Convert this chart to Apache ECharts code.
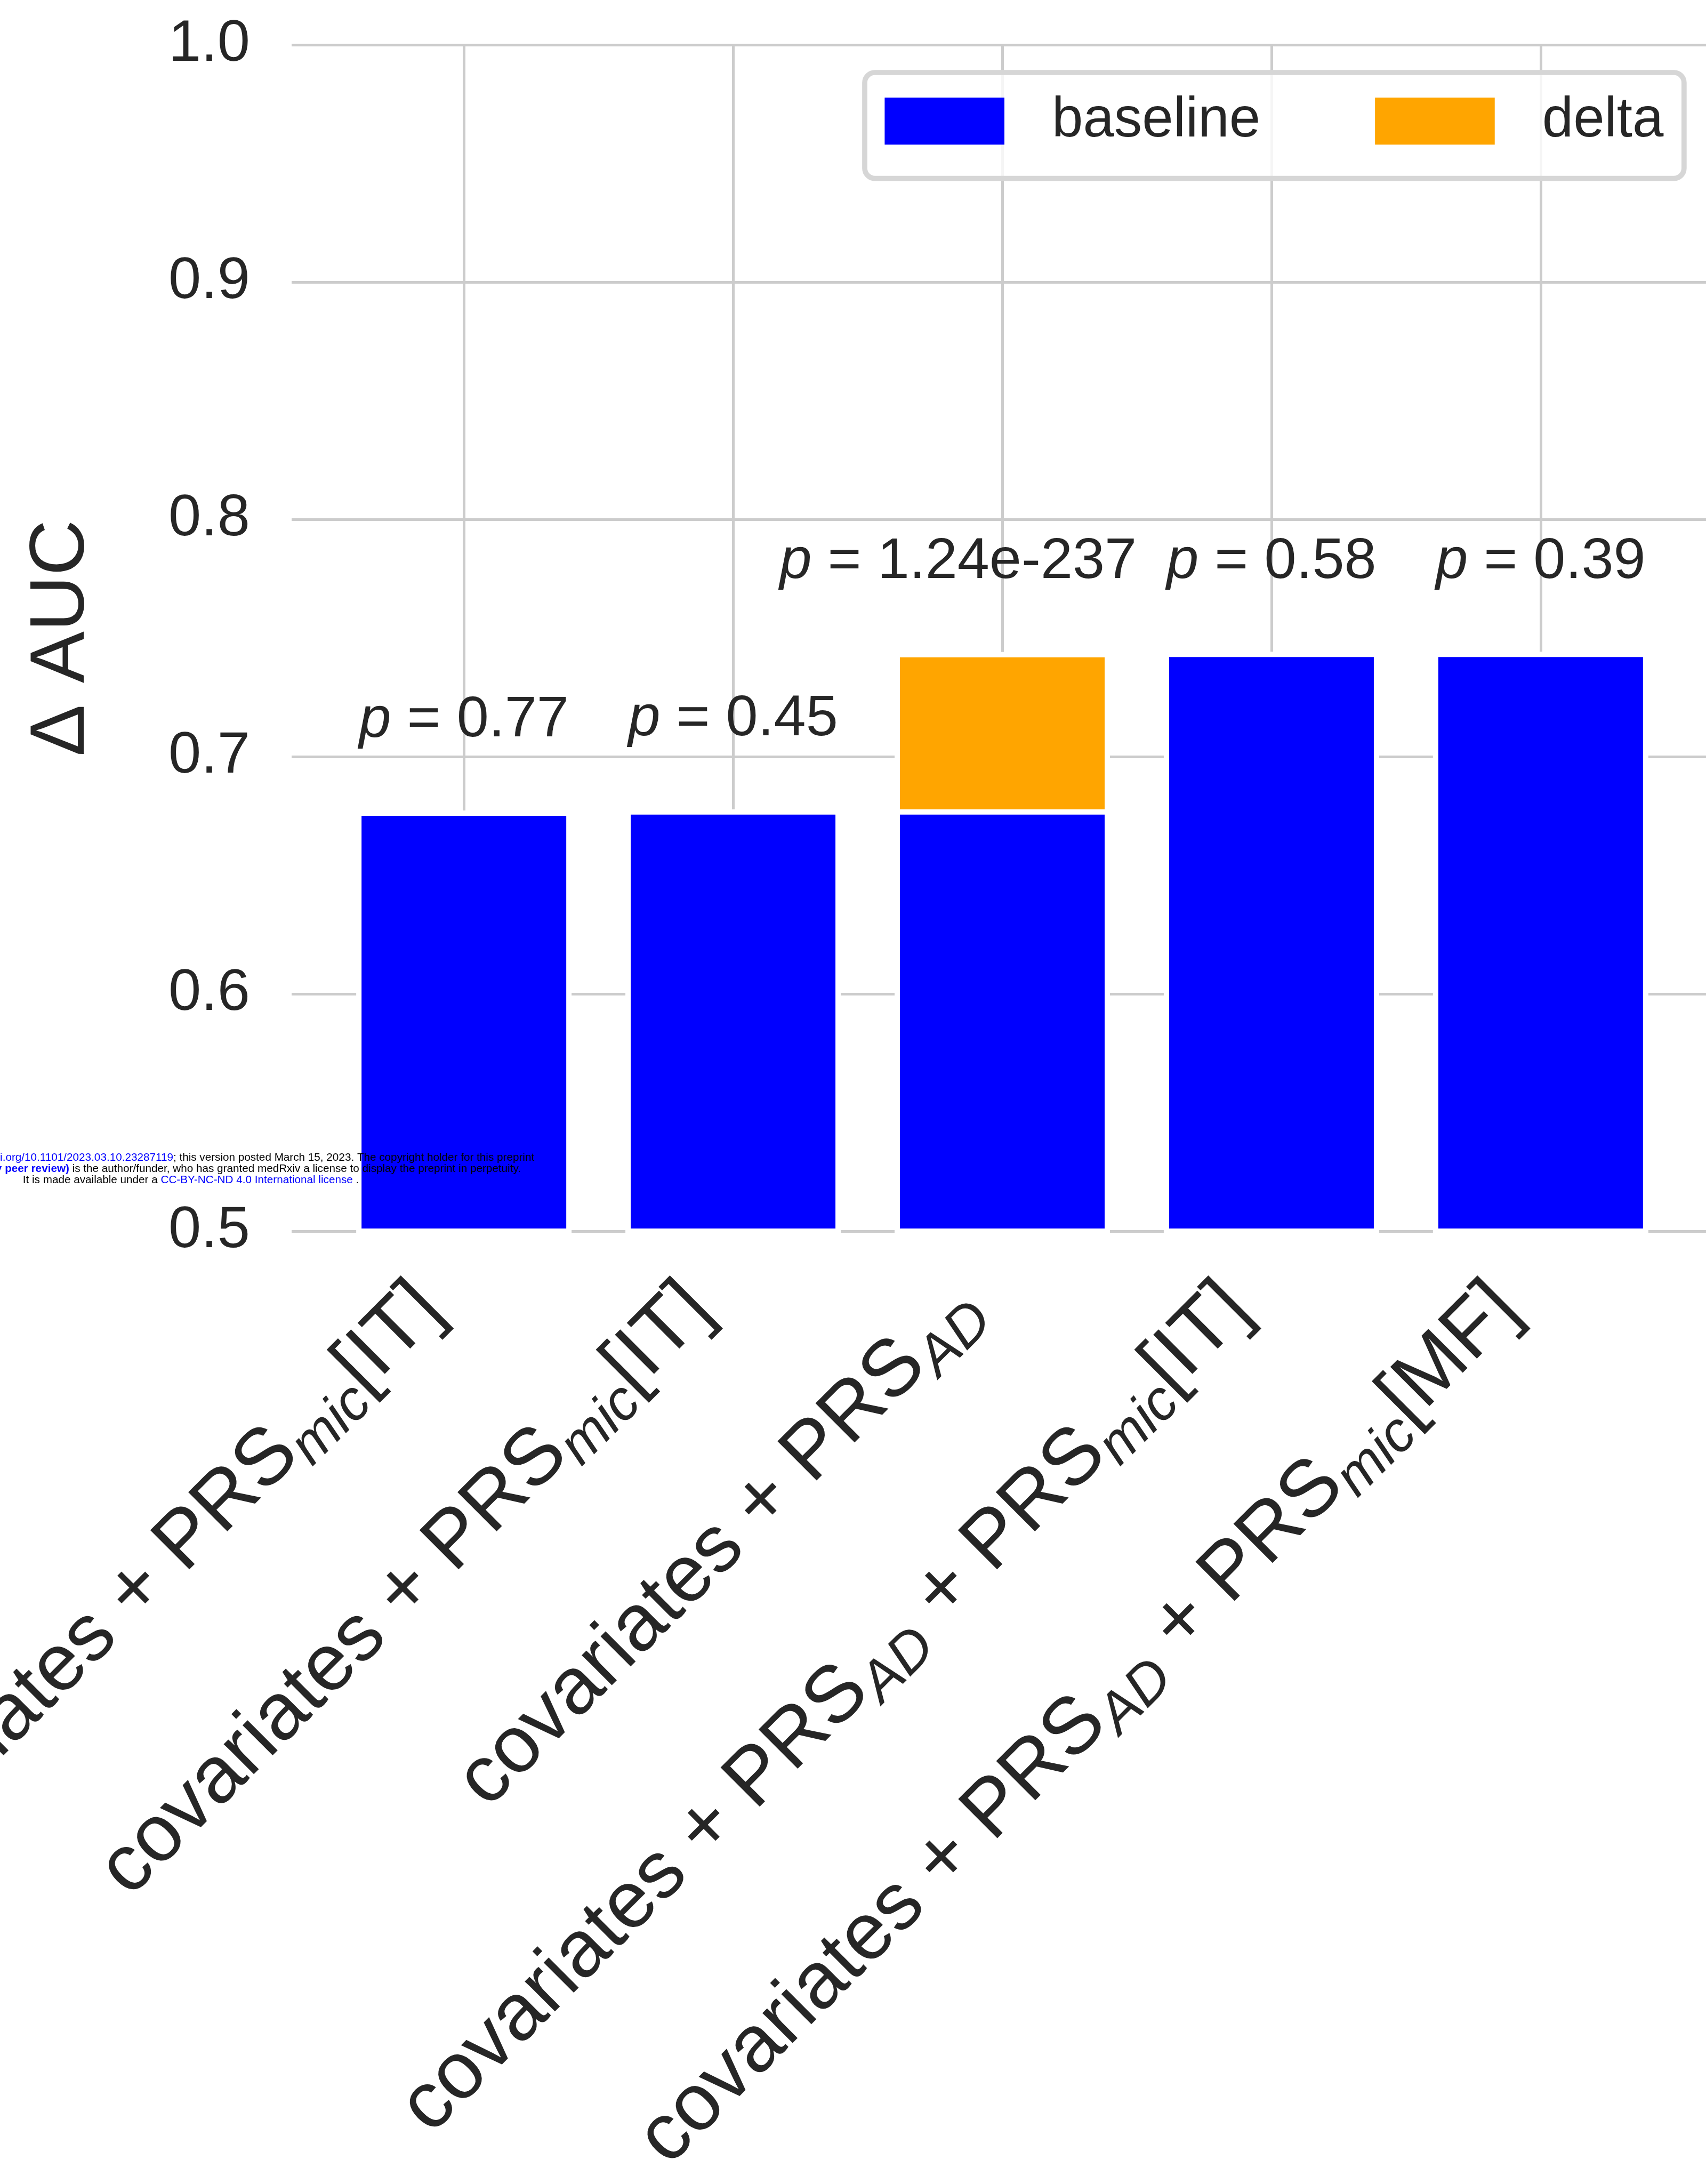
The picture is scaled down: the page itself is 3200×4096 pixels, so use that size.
<!DOCTYPE html>
<html>
<head>
<meta charset="utf-8">
<script src="https://cdn.jsdelivr.net/npm/echarts@6/dist/echarts.min.js"></script>
<style>
html, body { margin: 0; padding: 0; background: #ffffff; }
#chart { width: 3200px; height: 4096px; }
</style>
</head>
<body>
<div id="chart"></div>
<script>
// ---- data ----
const categories = [
  'covariates + PRS_mic[IT]',
  'covariates + PRS_mic[IT]',
  'covariates + PRS_AD',
  'covariates + PRS_AD + PRS_mic[IT]',
  'covariates + PRS_AD + PRS_mic[MF]'
];
const baseline = [0.6773, 0.6778, 0.6778, 0.7442, 0.7442];
const delta = [null, null, 0.0663, null, null];
const pValues = ['0.77', '0.45', '1.24e-237', '0.58', '0.39'];
const yTicks = [0.5, 0.6, 0.7, 0.8, 0.9, 1.0];
const seriesNames = ['baseline', 'delta'];
const yAxisTitle = 'Δ AUC';

// ---- style ----
const FONT = 'Liberation Sans, Arial, Helvetica, sans-serif';
const TEXT = '#262626';
const GRID = '#cccccc';

function richCategory(label) {
  const parts = label.split(/_(mic|AD)/);
  return parts.map((p, i) => (i % 2 ? '{s|' + p + '}' : '{m|' + p + '}')).join('');
}
function pText(v) { return '{i|p}{n| = ' + v + '}'; }

const pRich = {
  i: { fontStyle: 'italic', fontSize: 108, lineHeight: 108, color: TEXT, fontFamily: FONT },
  n: { fontSize: 108, lineHeight: 108, color: TEXT, fontFamily: FONT }
};

// top of the stacked (baseline + delta) bar, only where a delta exists
const deltaTop = delta.map((d, i) => (d == null ? '-' : baseline[i] + d));

const chart = echarts.init(document.getElementById('chart'), null, { renderer: 'canvas' });

chart.setOption({
  animation: false,
  backgroundColor: '#ffffff',
  textStyle: { fontFamily: FONT, color: TEXT },
  grid: {
    left: 547, right: -13, top: 84, bottom: 1787,
    containLabel: false, outerBoundsMode: 'none'
  },
  legend: {
    data: seriesNames,
    left: 1622, top: 136,
    orient: 'horizontal',
    icon: 'rect',
    itemWidth: 224.6, itemHeight: 88.3, itemGap: 215,
    padding: [38.6, 38.4, 55, 37.4],
    backgroundColor: 'rgba(255,255,255,0.8)',
    borderColor: '#d6d6d6', borderWidth: 9.7, borderRadius: 19,
    itemStyle: { borderWidth: 0 },
    textStyle: { fontSize: 105, lineHeight: 88, color: TEXT, fontFamily: FONT, padding: [0, 0, 0, 84] },
    selectedMode: false
  },
  xAxis: {
    type: 'value',
    min: -0.64, max: 4.64,
    splitNumber: 5, minInterval: 1, maxInterval: 1,
    axisLine: { show: false, onZero: false },
    axisTick: { show: false },
    splitLine: { show: true, showMinLine: false, showMaxLine: false, lineStyle: { color: GRID, width: 5 } },
    axisLabel: {
      show: true,
      rotate: 45,
      margin: 60.5,
      showMinLabel: false, showMaxLabel: false,
      padding: [0, 89.1, 0, 0],
      formatter: function (v) {
        const i = Math.round(v);
        if (Math.abs(v - i) > 1e-6 || i < 0 || i >= categories.length) return '';
        return richCategory(categories[i]);
      },
      rich: {
        m: { fontSize: 151, lineHeight: 150, color: TEXT, fontFamily: FONT },
        s: { fontSize: 105.7, lineHeight: 105.7, fontStyle: 'italic', verticalAlign: 'top', padding: [61.4, 0, 0, 0], color: TEXT, fontFamily: FONT }
      }
    }
  },
  yAxis: {
    type: 'value',
    min: yTicks[0], max: yTicks[yTicks.length - 1], interval: 0.1,
    axisLine: { show: false, onZero: false },
    axisTick: { show: false },
    splitLine: { show: true, lineStyle: { color: GRID, width: 5 } },
    axisLabel: {
      fontSize: 110, color: TEXT, fontFamily: FONT, margin: 78,
      formatter: v => v.toFixed(1)
    },
    name: yAxisTitle,
    nameLocation: 'middle',
    nameGap: 357,
    nameTextStyle: { fontSize: 145, lineHeight: 145, color: TEXT, fontFamily: FONT }
  },
  series: [
    {
      name: seriesNames[1],
      type: 'bar',
      barWidth: 404,
      barGap: '-100%',
      clip: true,
      z: 2,
      data: deltaTop.map((v, i) => [i, v]),
      itemStyle: { color: '#ffa500', borderColor: '#ffffff', borderWidth: 10 },
      label: {
        show: true, position: 'top', distance: 114.5, offset: [-82.7, 0],
        formatter: p => pText(pValues[p.dataIndex]),
        rich: pRich
      }
    },
    {
      name: seriesNames[0],
      type: 'bar',
      barWidth: 404,
      barGap: '-100%',
      clip: true,
      z: 3,
      data: baseline.map((v, i) => [i, v]),
      itemStyle: { color: '#0000ff', borderColor: '#ffffff', borderWidth: 10 },
      label: {
        show: true, position: 'top', distance: 114.5,
        formatter: p => (delta[p.dataIndex] == null ? pText(pValues[p.dataIndex]) : ''),
        rich: pRich
      }
    }
  ],
  graphic: [
    {
      type: 'text', x: 358, y: 2171, z: 100,
      style: {
        text: '{k|medRxiv preprint doi: }{b|https://doi.org/10.1101/2023.03.10.23287119}{k|; this version posted March 15, 2023. The copyright holder for this preprint}',
        align: 'center', verticalAlign: 'middle',
        rich: {
          k: { fill: '#000000', fontSize: 20.7, fontFamily: FONT },
          b: { fill: '#0000ff', fontSize: 20.7, fontFamily: FONT }
        }
      }
    },
    {
      type: 'text', x: 358, y: 2192, z: 100,
      style: {
        text: '{b|(which was not certified by peer review)}{k| is the author/funder, who has granted medRxiv a license to display the preprint in perpetuity.}',
        align: 'center', verticalAlign: 'middle',
        rich: {
          k: { fill: '#000000', fontSize: 20.7, fontFamily: FONT },
          b: { fill: '#0000ff', fontSize: 20.7, fontWeight: 'bold', fontFamily: FONT }
        }
      }
    },
    {
      type: 'text', x: 358, y: 2213, z: 100,
      style: {
        text: '{k|It is made available under a }{b|CC-BY-NC-ND 4.0 International license}{k| .}',
        align: 'center', verticalAlign: 'middle',
        rich: {
          k: { fill: '#000000', fontSize: 20.7, fontFamily: FONT },
          b: { fill: '#0000ff', fontSize: 20.7, fontFamily: FONT }
        }
      }
    }
  ]
});
</script>
</body>
</html>
